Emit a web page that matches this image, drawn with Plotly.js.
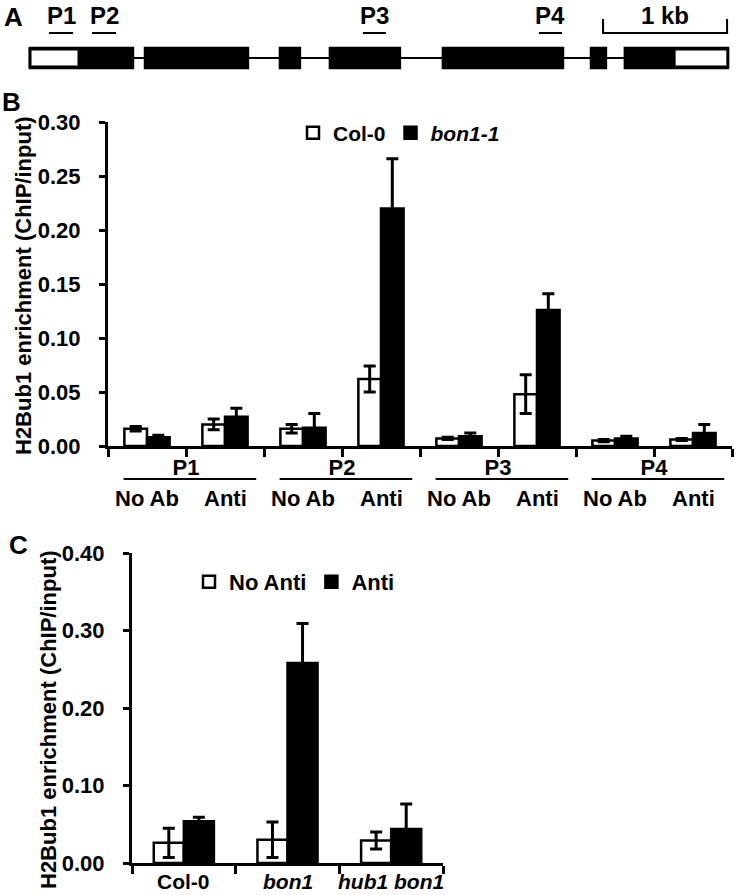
<!DOCTYPE html>
<html>
<head>
<meta charset="utf-8">
<script src="https://cdn.plot.ly/plotly-3.0.1.min.js"></script>
<style>
  body { margin: 0; background: #fff; }
  #chart { width: 737px; height: 895px; }
</style>
</head>
<body>
<div id="chart"></div>
<script>
// ---- panel A: gene model (positions in bp from gene start) ----
const exonStart = [0, 927, 2015, 2418, 3329, 4523, 4796];
const exonEnd   = [830, 1757, 2176, 2982, 4297, 4643, 5626];
const utrStart  = [0, 5193];
const utrEnd    = [395, 5626];
const probeNames = ['P1', 'P2', 'P3', 'P4'];
const probeStart = [153, 500, 2684, 4103];
const probeEnd   = [347, 694, 2869, 4289];
const scaleStart = 4620, scaleEnd = 5620, scaleLabel = '1 kb';

// ---- panel B: ChIP at P1-P4 ----
const treatB = ['No Ab', 'Anti', 'No Ab', 'Anti', 'No Ab', 'Anti', 'No Ab', 'Anti'];
const col0   = [0.016, 0.020, 0.016, 0.062, 0.007, 0.048, 0.005, 0.006];
const col0Err = [0.002, 0.005, 0.004, 0.012, 0.001, 0.018, 0.001, 0.001];
const bon11  = [0.008, 0.027, 0.017, 0.220, 0.009, 0.126, 0.007, 0.012];
const bon11Err = [0.002, 0.008, 0.013, 0.046, 0.003, 0.015, 0.002, 0.008];

// ---- panel C: genotypes ----
const genotypes = ['Col-0', '<i>bon1</i>', '<i>hub1 bon1</i>'];
const noAnti    = [0.026, 0.030, 0.029];
const noAntiErr = [0.019, 0.023, 0.011];
const anti      = [0.054, 0.258, 0.044];
const antiErr   = [0.005, 0.051, 0.032];

const FONT = 'Liberation Sans, Arial, sans-serif';
const idx = (arr) => arr.map((_, i) => i);
const bold = (size) => ({size: size, family: FONT, weight: 'bold', color: '#000'});

function errBar(vals) {
    return {type: 'data', array: vals, arrayminus: vals, visible: true,
            color: '#000', thickness: 3, width: 6};
}

const data = [
    {x: idx(col0), y: col0, type: 'bar', name: 'Col-0', xaxis: 'x', yaxis: 'y',
     marker: {color: '#fff', line: {color: '#000', width: 2.5}},
     error_y: errBar(col0Err), legend: 'legend'},
    {x: idx(bon11), y: bon11, type: 'bar', name: '<i>bon1-1</i>', xaxis: 'x', yaxis: 'y',
     marker: {color: '#000', line: {color: '#000', width: 2.5}},
     error_y: errBar(bon11Err), legend: 'legend'},
    {x: idx(noAnti), y: noAnti, type: 'bar', name: 'No Anti', xaxis: 'x2', yaxis: 'y2',
     marker: {color: '#fff', line: {color: '#000', width: 2.5}},
     error_y: errBar(noAntiErr), legend: 'legend2'},
    {x: idx(anti), y: anti, type: 'bar', name: 'Anti', xaxis: 'x2', yaxis: 'y2',
     marker: {color: '#000', line: {color: '#000', width: 2.5}},
     error_y: errBar(antiErr), legend: 'legend2'},
    {x: [], y: [], type: 'scatter', xaxis: 'x3', yaxis: 'y3', showlegend: false}
];

const shapes = [];
const annotations = [];

// gene model
shapes.push({type: 'line', xref: 'x3', yref: 'y3', x0: exonStart[0], x1: exonEnd[exonEnd.length - 1],
             y0: 0, y1: 0, line: {color: '#000', width: 2}});
for (var i = 0; i < exonStart.length; i++) {
    shapes.push({type: 'rect', xref: 'x3', yref: 'y3', x0: exonStart[i], x1: exonEnd[i], y0: -10, y1: 10,
                 fillcolor: '#000', line: {color: '#000', width: 2.5}});
}
for (var i = 0; i < utrStart.length; i++) {
    shapes.push({type: 'rect', xref: 'x3', yref: 'y3', x0: utrStart[i], x1: utrEnd[i], y0: -9, y1: 9,
                 fillcolor: '#fff', line: {color: '#000', width: 3}});
}
for (var i = 0; i < probeNames.length; i++) {
    shapes.push({type: 'line', xref: 'x3', yref: 'y3', x0: probeStart[i], x1: probeEnd[i], y0: 25, y1: 25,
                 line: {color: '#000', width: 2}});
    annotations.push({xref: 'x3', yref: 'y3', x: (probeStart[i] + probeEnd[i]) / 2, y: 43, text: probeNames[i],
                      xanchor: 'center', yanchor: 'middle', showarrow: false, font: bold(24)});
}
shapes.push({type: 'path', xref: 'x3', yref: 'y3',
             path: 'M' + scaleStart + ',39 L' + scaleStart + ',25 L' + scaleEnd + ',25 L' + scaleEnd + ',39',
             line: {color: '#000', width: 2}});
annotations.push({xref: 'x3', yref: 'y3', x: (scaleStart + scaleEnd) / 2, y: 43, text: scaleLabel,
                  xanchor: 'center', yanchor: 'middle', showarrow: false, font: bold(24)});

// panel B lower labels
for (var p = 0; p < probeNames.length; p++) {
    shapes.push({type: 'line', xref: 'x', yref: 'paper', x0: 2 * p + 0.55 - 0.85, x1: 2 * p + 0.55 + 0.85,
                 y0: 1 - 479 / 895, y1: 1 - 479 / 895, line: {color: '#000', width: 2}});
}
treatB.forEach(function (t, i) {
    annotations.push({xref: 'x', yref: 'paper', x: i, y: 1 - 498 / 895, text: t, showarrow: false,
                      xanchor: 'center', yanchor: 'middle', font: bold(22)});
});

// panel C category labels
genotypes.forEach(function (g, i) {
    annotations.push({xref: 'x2', yref: 'paper', x: i, y: 1 - 881 / 895, text: g, showarrow: false,
                      xanchor: 'center', yanchor: 'middle', font: bold(21)});
});

// panel letters and y titles
[['A', 13, 17], ['B', 12, 102], ['C', 18, 545]].forEach(function (l) {
    annotations.push({xref: 'paper', yref: 'paper', x: l[1] / 737, y: 1 - l[2] / 895, text: l[0],
                      xanchor: 'center', yanchor: 'middle', showarrow: false, font: bold(26)});
});
const yTitle = 'H2Bub1 enrichment (ChIP/input)';
annotations.push({xref: 'paper', yref: 'paper', x: 23 / 737, y: 1 - 286 / 895, text: yTitle, textangle: -90,
                  xanchor: 'center', yanchor: 'middle', showarrow: false, font: bold(22)});
annotations.push({xref: 'paper', yref: 'paper', x: 48 / 737, y: 1 - 720 / 895, text: yTitle, textangle: -90,
                  xanchor: 'center', yanchor: 'middle', showarrow: false, font: bold(22)});

const axisBase = {showline: true, linecolor: '#000', linewidth: 3, showgrid: false, zeroline: false,
                  ticks: 'outside', ticklen: 6, tickwidth: 3, tickcolor: '#000', tickfont: bold(22),
                  fixedrange: true};

const layout = {
    width: 737, height: 895,
    margin: {l: 0, r: 0, t: 0, b: 0},
    paper_bgcolor: '#fff', plot_bgcolor: 'rgba(0,0,0,0)',
    font: {family: FONT, color: '#000', weight: 'bold'},
    barmode: 'group', bargap: 0.42, bargroupgap: 0,
    showlegend: true,
    xaxis: Object.assign({}, axisBase, {
        domain: [108 / 737, 732 / 737], anchor: 'y', range: [-0.5, 7.5],
        tickmode: 'array', ticklen: 8, ticklabelstandoff: -8,
        tickvals: [-0.5, 0.5, 1.5, 2.5, 3.5, 4.5, 5.5, 6.5, 7.5],
        ticktext: ['', 'P1', '', 'P2', '', 'P3', '', 'P4', '']
    }),
    yaxis: Object.assign({}, axisBase, {
        domain: [1 - 446 / 895, 1 - 122 / 895], anchor: 'x', range: [0, 0.30],
        dtick: 0.05, tickformat: '.2f', ticklabelstandoff: 14
    }),
    xaxis2: Object.assign({}, axisBase, {
        domain: [132 / 737, 443 / 737], anchor: 'y2', range: [-0.5, 2.5],
        tickmode: 'array', tickvals: [-0.5, 0.5, 1.5, 2.5], ticklen: 8, showticklabels: false
    }),
    yaxis2: Object.assign({}, axisBase, {
        domain: [1 - 863 / 895, 1 - 553 / 895], anchor: 'x2', range: [0, 0.40],
        dtick: 0.10, tickformat: '.2f', ticklabelstandoff: 14
    }),
    xaxis3: {domain: [0, 1], anchor: 'y3', range: [-242, 5700], visible: false, fixedrange: true},
    yaxis3: {domain: [1 - 95 / 895, 1], anchor: 'x3', range: [-37, 58], visible: false, fixedrange: true},
    legend: {orientation: 'h', x: 293 / 737, y: 1 - 133 / 895, xanchor: 'left', yanchor: 'middle',
             bgcolor: 'rgba(0,0,0,0)', font: bold(21), traceorder: 'normal'},
    legend2: {orientation: 'h', x: 189 / 737, y: 1 - 582 / 895, xanchor: 'left', yanchor: 'middle',
              bgcolor: 'rgba(0,0,0,0)', font: bold(22), traceorder: 'normal'},
    shapes: shapes,
    annotations: annotations
};

Plotly.newPlot('chart', data, layout, {staticPlot: true});
</script>
</body>
</html>
